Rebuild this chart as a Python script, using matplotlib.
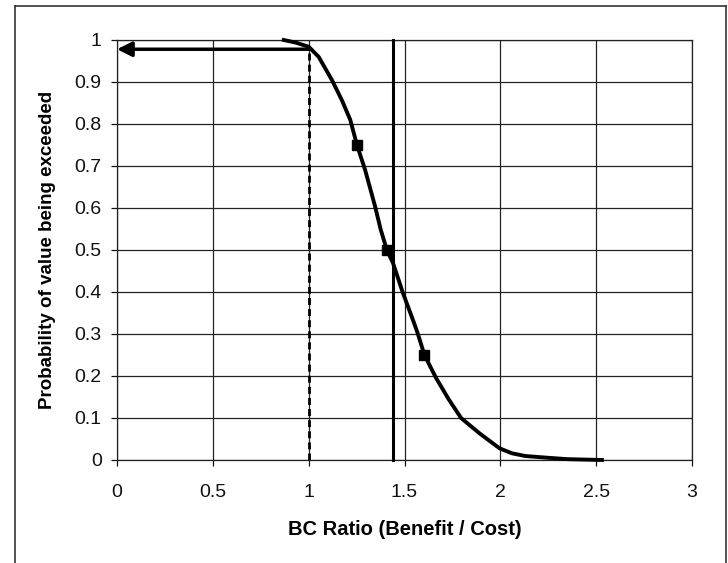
import matplotlib.pyplot as plt
from matplotlib.lines import Line2D

plt.rcParams['font.family'] = ['Liberation Sans', 'DejaVu Sans']

# exceedance curve
bc_ratio = [0.87, 0.931, 1.0, 1.052, 1.121, 1.173, 1.217, 1.252, 1.295, 1.347,
            1.375, 1.408, 1.44, 1.49, 1.55, 1.57, 1.604, 1.665, 1.73, 1.795,
            1.89, 1.995, 2.06, 2.13, 2.24, 2.35, 2.53]
prob_exceed = [1.0, 0.994, 0.984, 0.96, 0.905, 0.857, 0.81, 0.75, 0.69, 0.603,
               0.55, 0.50, 0.469, 0.40, 0.326, 0.30, 0.25, 0.195, 0.145, 0.10,
               0.064, 0.028, 0.016, 0.0095, 0.0056, 0.002, 0.0]

# quartile markers
quart_bc = [1.252, 1.408, 1.604]
quart_prob = [0.75, 0.50, 0.25]

mean_bc = 1.44
threshold_bc = 1.0
prob_at_threshold = 0.978

xticks = [0, 0.5, 1, 1.5, 2, 2.5, 3]
yticks = [0, 0.1, 0.2, 0.3, 0.4, 0.5, 0.6, 0.7, 0.8, 0.9, 1]

W, H = 728, 563
fig = plt.figure(figsize=(W / 100, H / 100), dpi=100)
ax = fig.add_axes([117 / W, 1 - 460 / H, (692 - 117) / W, (460 - 40) / H])

ax.set_xlim(0, 3)
ax.set_ylim(0, 1)
ax.set_xticks(xticks)
ax.set_xticklabels([f'{t:g}' for t in xticks])
ax.set_yticks(yticks)
ax.set_yticklabels([f'{t:g}' for t in yticks])
ax.grid(True, color='#222222', linewidth=0.9)
ax.set_axisbelow(True)
for s in ax.spines.values():
    s.set_color('#222222')
    s.set_linewidth(0.9)
ax.tick_params(axis='both', direction='out', length=4, width=0.9,
               colors='#111111', labelsize=14)
ax.tick_params(axis='y', pad=7)
ax.tick_params(axis='x', pad=13)

# mean line
ax.plot([mean_bc, mean_bc], [0, 1], color='black', lw=2.2, clip_on=False, zorder=3)

# threshold dashed line
ax.plot([threshold_bc, threshold_bc], [0, prob_at_threshold], color='black',
        lw=2, linestyle=(0, (2.5, 1.5)), zorder=3)

# arrow from threshold to y axis
ax.annotate('', xy=(0.0, prob_at_threshold), xytext=(threshold_bc, prob_at_threshold),
            arrowprops=dict(arrowstyle='-|>', lw=2.5, color='black',
                            mutation_scale=22, shrinkA=0, shrinkB=0),
            zorder=4)

ax.plot(bc_ratio, prob_exceed, color='black', lw=2.8, clip_on=False, zorder=4)
ax.plot(quart_bc, quart_prob, linestyle='none', marker='s', ms=6.5,
        color='black', zorder=5)

ax.set_xlabel('BC Ratio (Benefit / Cost)', fontsize=14.5, fontweight='bold',
              labelpad=14)
ax.set_ylabel('Probability of value being exceeded', fontsize=13.5,
              fontweight='bold', labelpad=13)

# outer frame of the scanned figure
fx0, fx1, fy1 = 15 / W, 726 / W, 1 - 6 / H
for xs, ys in [([fx0, fx0], [0, fy1]), ([fx0, fx1], [fy1, fy1]), ([fx1, fx1], [fy1, 0])]:
    fig.add_artist(Line2D(xs, ys, color='#333333', lw=1.2, transform=fig.transFigure))

fig.savefig('out.png', dpi=100)
